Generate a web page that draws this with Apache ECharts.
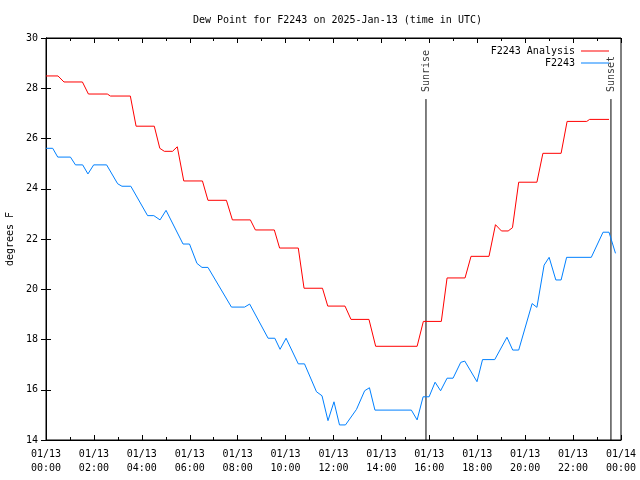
<!DOCTYPE html>
<html>
<head>
<meta charset="utf-8">
<script src="https://cdn.jsdelivr.net/npm/echarts@6/dist/echarts.min.js"></script>
<style>
html,body{margin:0;padding:0;background:#fff;}
#chart{width:640px;height:480px;}
</style>
</head>
<body>
<div id="chart"></div>
<script>
// Hours since 01/13 00:00 UTC
const analysisTimes = [0, 0.5, 0.75, 1.52, 1.77, 2.56, 2.69, 3.52, 3.76, 4.52, 4.75, 4.94, 5.28, 5.48, 5.75, 6.53, 6.76, 7.53, 7.78, 8.53, 8.74, 9.53, 9.75, 10.53, 10.77, 11.54, 11.76, 12.48, 12.73, 13.48, 13.76, 15.49, 15.75, 16.5, 16.74, 17.49, 17.74, 18.49, 18.76, 19.01, 19.29, 19.47, 19.73, 20.49, 20.74, 21.5, 21.75, 22.57, 22.69, 23.5];
const analysisValues = [28.49, 28.49, 28.25, 28.25, 27.77, 27.77, 27.69, 27.69, 26.49, 26.49, 25.61, 25.49, 25.49, 25.67, 24.31, 24.31, 23.54, 23.54, 22.76, 22.76, 22.36, 22.36, 21.64, 21.64, 20.04, 20.04, 19.33, 19.33, 18.8, 18.8, 17.73, 17.73, 18.72, 18.72, 20.45, 20.45, 21.31, 21.31, 22.57, 22.32, 22.32, 22.45, 24.26, 24.26, 25.41, 25.41, 26.68, 26.68, 26.76, 26.76];

const obsTimes = [0, 0.28, 0.49, 1.02, 1.23, 1.53, 1.75, 1.99, 2.53, 2.99, 3.17, 3.54, 4.24, 4.5, 4.76, 5.01, 5.72, 5.99, 6.3, 6.51, 6.76, 7.74, 8.29, 8.5, 9.27, 9.55, 9.77, 10.02, 10.53, 10.79, 11.29, 11.52, 11.77, 12.02, 12.25, 12.5, 12.96, 13.3, 13.5, 13.73, 15.25, 15.49, 15.74, 15.99, 16.24, 16.47, 16.74, 16.99, 17.31, 17.48, 17.99, 18.22, 18.73, 19.24, 19.48, 19.73, 20.29, 20.49, 20.79, 21.0, 21.28, 21.5, 21.73, 22.76, 23.25, 23.5, 23.77];
const obsValues = [25.61, 25.61, 25.26, 25.26, 24.95, 24.95, 24.59, 24.95, 24.95, 24.2, 24.1, 24.1, 22.93, 22.93, 22.76, 23.14, 21.8, 21.8, 21.03, 20.87, 20.87, 19.29, 19.29, 19.41, 18.05, 18.05, 17.61, 18.05, 17.03, 17.03, 15.92, 15.76, 14.77, 15.52, 14.6, 14.6, 15.22, 15.96, 16.08, 15.19, 15.19, 14.8, 15.72, 15.72, 16.3, 15.96, 16.46, 16.46, 17.09, 17.14, 16.32, 17.2, 17.2, 18.09, 17.58, 17.58, 19.43, 19.28, 20.96, 21.27, 20.37, 20.37, 21.27, 21.27, 22.27, 22.27, 21.43];

const xTickLabels = ['01/13\n00:00','01/13\n02:00','01/13\n04:00','01/13\n06:00','01/13\n08:00','01/13\n10:00','01/13\n12:00','01/13\n14:00','01/13\n16:00','01/13\n18:00','01/13\n20:00','01/13\n22:00','01/14\n00:00'];
const yTicks = [14, 16, 18, 20, 22, 24, 26, 28, 30];

const sunEvents = ['Sunrise', 'Sunset'];
const sunTimes = [15.86, 23.58];
const sunLineTop = 27.57;

const FONT = 'DejaVu Sans Mono';

const zip = (a, b) => a.map((t, i) => [t, b[i]]);

const sunLineSeries = sunTimes.map((t, i) => ({
  name: sunEvents[i],
  type: 'line',
  data: [[t, yTicks[0]], [t, sunLineTop]],
  symbol: 'none',
  silent: true,
  lineStyle: { color: '#000', width: 1 },
  z: 1
}));

const chart = echarts.init(document.getElementById('chart'), null, { renderer: 'canvas' });
chart.setOption({
  animation: false,
  backgroundColor: '#fff',
  title: {
    text: 'Dew Point for F2243 on 2025-Jan-13 (time in UTC)',
    left: 188, top: 10,
    textStyle: { fontFamily: FONT, fontSize: 10, fontWeight: 'normal', color: '#000' }
  },
  legend: [
    {
      data: ['F2243 Analysis'], right: 31, top: 46, align: 'right', orient: 'vertical',
      icon: 'rect', itemWidth: 28, itemHeight: 1, itemGap: 2, padding: 0,
      textStyle: { fontFamily: FONT, fontSize: 10, color: '#000', padding: [0, 1, 0, 0] }
    },
    {
      data: ['F2243'], right: 31, top: 58, align: 'right', orient: 'vertical',
      icon: 'rect', itemWidth: 28, itemHeight: 1, itemGap: 2, padding: 0,
      textStyle: { fontFamily: FONT, fontSize: 10, color: '#000', padding: [0, 1, 0, 0] }
    }
  ],
  grid: { left: 46, right: 19, top: 38, bottom: 40, containLabel: false, outerBoundsMode: 'none', show: true, borderColor: '#000', borderWidth: 1, backgroundColor: 'transparent' },
  xAxis: [
    {
      type: 'value', min: 0, max: 24, interval: 2, position: 'bottom',
      axisLine: { show: true, lineStyle: { color: '#000', width: 1 } },
      axisTick: { show: true, inside: true, length: 5, lineStyle: { color: '#000' } },
      minorTick: { show: true, splitNumber: 2, length: 3, lineStyle: { color: '#000' } },
      splitLine: { show: false },
      axisLabel: {
        fontFamily: FONT, fontSize: 10, color: '#000', margin: 7, lineHeight: 14,
        formatter: v => xTickLabels[Math.round(v / 2)]
      }
    },
    {
      type: 'value', min: 0, max: 24, interval: 2, position: 'top',
      axisLine: { show: true, lineStyle: { color: '#000', width: 1 } },
      axisTick: { show: true, inside: true, length: 5, lineStyle: { color: '#000' } },
      minorTick: { show: true, splitNumber: 2, length: 3, lineStyle: { color: '#000' } },
      splitLine: { show: false },
      axisLabel: { show: false }
    }
  ],
  yAxis: [
    {
      type: 'value', min: 14, max: 30, interval: 2, position: 'left',
      name: 'degrees F', nameLocation: 'middle', nameGap: 31, nameRotate: 90,
      nameTextStyle: { fontFamily: FONT, fontSize: 10, color: '#000' },
      axisLine: { show: true, lineStyle: { color: '#000', width: 1 } },
      axisTick: { show: true, inside: true, length: 5, lineStyle: { color: '#000' } },
      splitLine: { show: false },
      axisLabel: { fontFamily: FONT, fontSize: 10, color: '#000', margin: 8,
        formatter: v => String(yTicks[yTicks.indexOf(v)]) }
    },
    {
      type: 'value', min: 14, max: 30, interval: 2, position: 'right',
      axisLine: { show: true, lineStyle: { color: '#000', width: 1 } },
      axisTick: { show: true, inside: true, length: 5, lineStyle: { color: '#000' } },
      splitLine: { show: false },
      axisLabel: { show: false }
    }
  ],
  series: [
    {
      name: 'F2243 Analysis', type: 'line', data: zip(analysisTimes, analysisValues),
      symbol: 'none', lineStyle: { color: '#ff0000', width: 1 }, itemStyle: { color: '#ff0000' }, z: 3
    },
    {
      name: 'F2243', type: 'line', data: zip(obsTimes, obsValues),
      symbol: 'none', lineStyle: { color: '#0080ff', width: 1 }, itemStyle: { color: '#0080ff' }, z: 3
    },
    ...sunLineSeries,
    {
      name: 'sunLabels', type: 'scatter', silent: true,
      data: sunTimes.map((t, i) => [t, sunLineTop, sunEvents[i]]),
      symbolSize: 0,
      label: {
        show: true, position: 'top', distance: 7, rotate: 90,
        align: 'left', verticalAlign: 'middle',
        fontFamily: FONT, fontSize: 10, color: '#000',
        formatter: p => p.data[2]
      }
    }
  ]
});
</script>
</body>
</html>
